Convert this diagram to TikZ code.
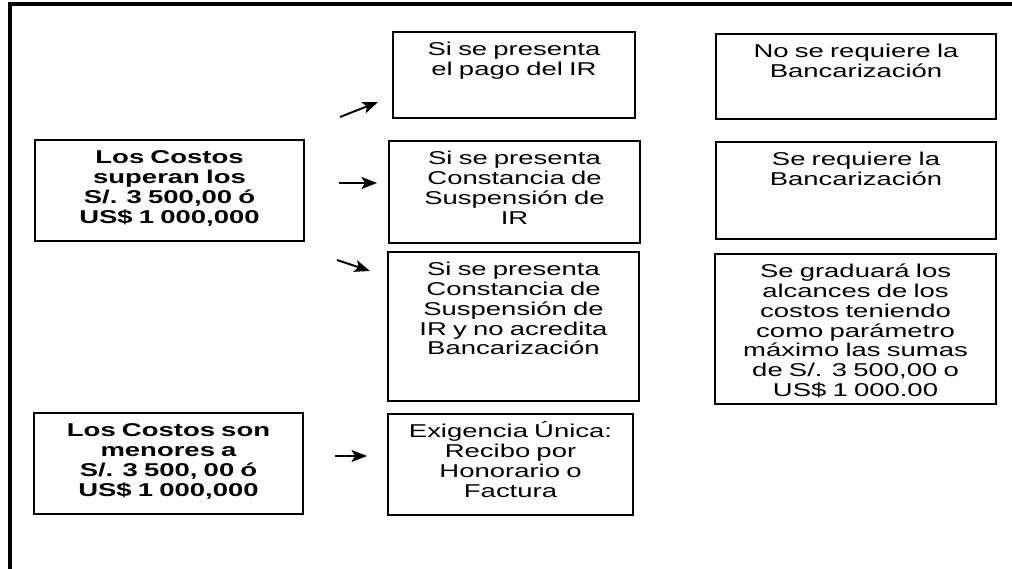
\documentclass[tikz,border=0pt]{standalone}
\usepackage{fontspec}
\setmainfont{Liberation Sans}[FakeStretch=1.48]
\usepackage{tikz}
\usetikzlibrary{positioning, arrows.meta}

\begin{document}
\begin{tikzpicture}[x=0.025cm, y=-0.025cm,
  box/.style={draw, line width=1.4pt, anchor=north west, align=center, inner sep=0pt,
    text height=0.6cm, font=\fontsize{13.2pt}{14pt}\selectfont},
  boxb/.style={box, font=\fontsize{13.2pt}{14pt}\selectfont\bfseries},
  arr/.style={-{Stealth[length=11pt, width=8.5pt, inset=2.5pt]}, line width=1.4pt}]
\useasboundingbox (0,0) rectangle (1012,569);
% Frame
\draw[line width=2.2pt] (1012,4) -- (10,4) -- (10,569);
% Conditions
\node[boxb, text width=6.725cm, text depth=1.925cm] (costosup) at (34,139)
  {Los Costos\\superan los\\S/. 3 500,00 ó\\US\$ 1 000,000};
\node[boxb, text width=6.725cm, text depth=1.925cm] (costosmen) at (33,412)
  {Los Costos son\\menores a\\S/. 3 500, 00 ó\\US\$ 1 000,000};
% Cases
\node[box, text width=6.05cm, text depth=1.55cm] (pago) at (392,31)
  {Si se presenta\\el pago del IR};
\node[box, text width=6.275cm, text depth=1.95cm] (constancia) at (388,140)
  {Si se presenta\\Constancia de\\Suspensión de\\IR};
\node[box, text width=6.275cm, text depth=3.125cm] (noacredita) at (387,251)
  {Si se presenta\\Constancia de\\Suspensión de\\IR y no acredita\\Bancarización};
\node[box, text width=6.125cm, text depth=1.925cm] (exigencia) at (387,413)
  {Exigencia Única:\\Recibo por\\Honorario o\\Factura};
% Results
\node[box, text width=7cm, text depth=1.525cm] (norequiere) at (715,33)
  {No se requiere la\\Bancarización};
\node[box, text width=7cm, text depth=1.825cm] (requiere) at (715,141)
  {Se requiere la\\Bancarización};
\node[box, text width=7.025cm, text depth=3.15cm] (gradua) at (714,253)
  {Se graduará los\\alcances de los\\costos teniendo\\como parámetro\\máximo las sumas\\de S/. 3 500,00 o\\US\$ 1 000.00};
% Arrows
\draw[arr] ([shift={(35,-22)}]costosup.north east) -- ([shift={(-14,-17)}]pago.south west);
\draw[arr] ([shift={(34,-7.5)}]costosup.east) -- ([shift={(-11,-9)}]constancia.west);
\draw[arr] ([shift={(32,18)}]costosup.south east) -- ([shift={(-17,20)}]noacredita.north west);
\draw[arr] ([shift={(31,-7.5)}]costosmen.east) -- ([shift={(-20,-8.5)}]exigencia.west);
\end{tikzpicture}
\end{document}
